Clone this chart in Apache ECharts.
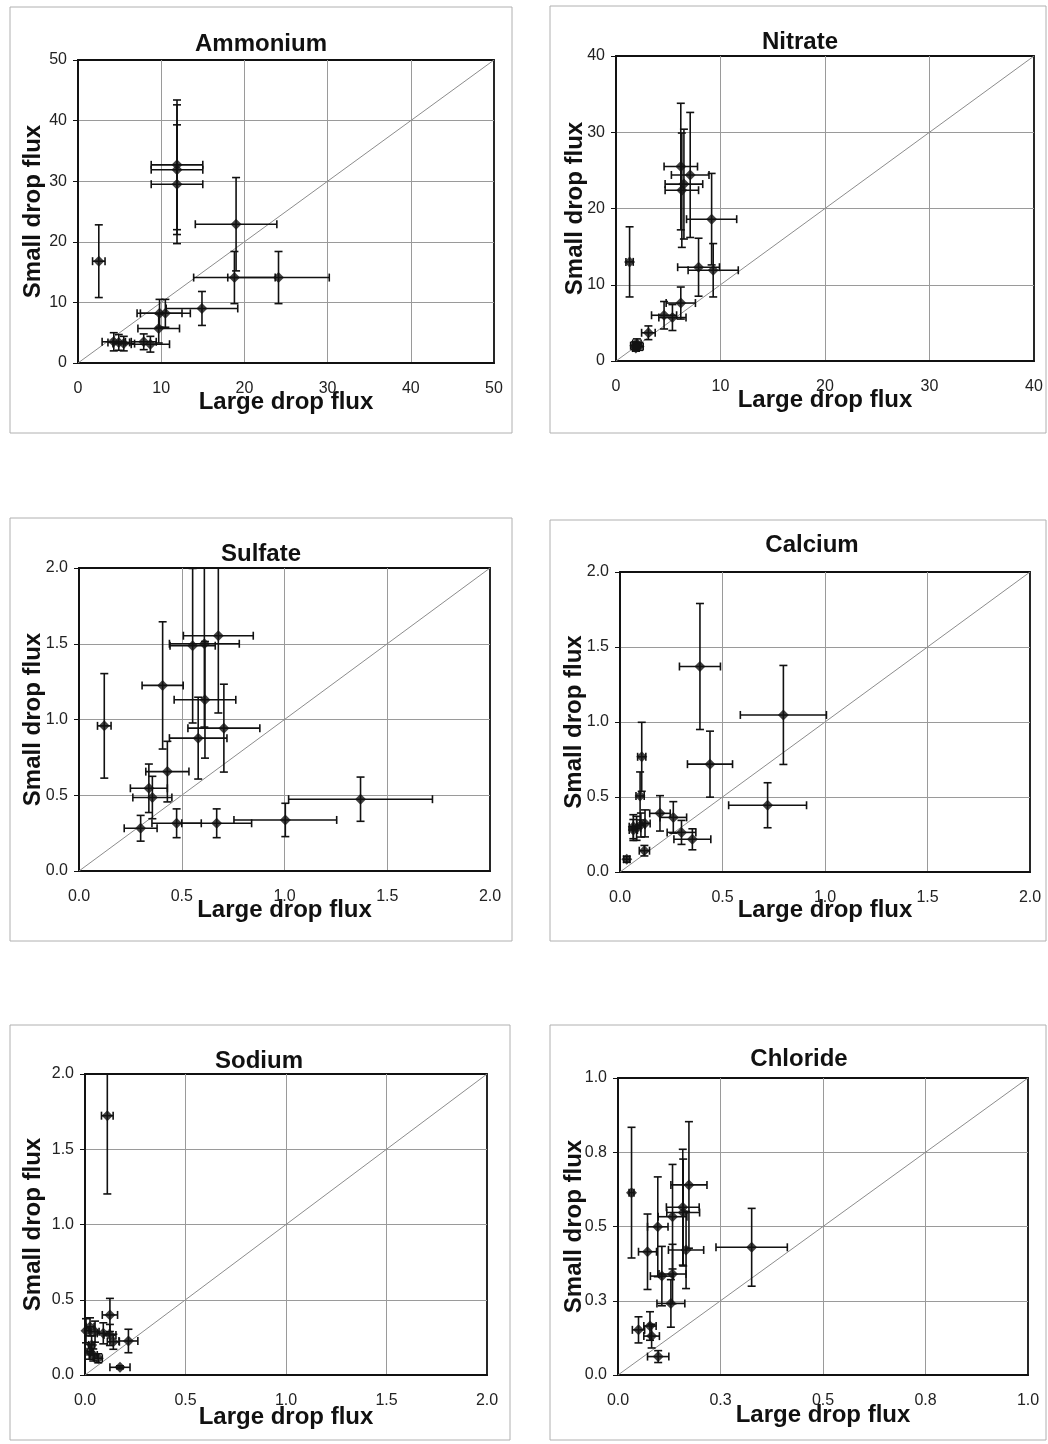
<!DOCTYPE html>
<html>
<head>
<meta charset="utf-8">
<title>Large vs small drop flux</title>
<script src="https://cdn.jsdelivr.net/npm/echarts@6/dist/echarts.min.js"></script>
<style>
	html, body { margin: 0; padding: 0; background: #fff; }
	#chart { width: 1048px; height: 1444px; }
</style>
</head>
<body>
<div id="chart"></div>
<script>
// values
// *Large = large drop flux (x), *Small = small drop flux (y), *Err = half width of the error bar
const ammoniumLarge = [2.5, 11.9, 11.9, 11.9, 19.0, 18.8, 24.1, 14.9, 9.8, 10.5, 9.7, 4.3, 4.9, 5.5, 7.9, 8.7];
const ammoniumSmall = [16.8, 32.7, 31.9, 29.5, 22.9, 14.1, 14.1, 9.0, 8.2, 8.2, 5.7, 3.5, 3.4, 3.2, 3.5, 3.1];
const ammoniumLargeErr = [0.75, 3.1, 3.1, 3.1, 4.9, 4.9, 6.1, 4.3, 2.7, 3.0, 2.5, 1.4, 1.3, 1.3, 1.5, 2.3];
const ammoniumSmallErr = [6.0, 10.7, 10.7, 9.8, 7.7, 4.3, 4.3, 2.8, 2.3, 2.3, 2.4, 1.5, 1.3, 1.2, 1.3, 1.3];

const nitrateLarge = [1.3, 6.2, 7.1, 6.5, 6.3, 9.15, 7.9, 9.3, 6.2, 4.6, 5.4, 3.1, 2.0, 1.8, 2.2, 1.9];
const nitrateSmall = [13.0, 25.5, 24.4, 23.2, 22.4, 18.6, 12.3, 11.9, 7.6, 6.0, 5.7, 3.7, 2.3, 2.0, 1.9, 1.7];
const nitrateLargeErr = [0.35, 1.6, 1.8, 1.8, 1.6, 2.4, 2.0, 2.4, 1.4, 1.2, 1.3, 0.65, 0.4, 0.4, 0.4, 0.3];
const nitrateSmallErr = [4.6, 8.3, 8.2, 7.2, 7.5, 6.0, 3.8, 3.5, 2.1, 1.8, 1.7, 0.9, 0.6, 0.5, 0.5, 0.4];

const sulfateLarge = [0.123, 0.407, 0.553, 0.61, 0.678, 0.613, 0.58, 0.705, 0.43, 0.34, 0.357, 0.30, 0.475, 0.67, 1.004, 1.37];
const sulfateSmall = [0.958, 1.225, 1.487, 1.50, 1.553, 1.13, 0.877, 0.943, 0.656, 0.546, 0.485, 0.282, 0.315, 0.315, 0.337, 0.474];
const sulfateLargeErr = [0.033, 0.10, 0.11, 0.17, 0.17, 0.15, 0.14, 0.175, 0.105, 0.09, 0.095, 0.08, 0.12, 0.17, 0.25, 0.35];
const sulfateSmallErr = [0.345, 0.42, 0.51, 0.55, 0.51, 0.385, 0.27, 0.29, 0.2, 0.16, 0.14, 0.085, 0.095, 0.095, 0.11, 0.146];

const calciumLarge = [0.39, 0.797, 0.439, 0.72, 0.106, 0.098, 0.195, 0.26, 0.30, 0.353, 0.065, 0.081, 0.122, 0.102, 0.065, 0.119, 0.033];
const calciumSmall = [1.37, 1.047, 0.719, 0.445, 0.768, 0.507, 0.391, 0.364, 0.264, 0.218, 0.302, 0.291, 0.324, 0.313, 0.28, 0.142, 0.085];
const calciumLargeErr = [0.10, 0.21, 0.11, 0.19, 0.02, 0.02, 0.05, 0.065, 0.07, 0.09, 0.02, 0.02, 0.025, 0.02, 0.02, 0.025, 0.015];
const calciumSmallErr = [0.42, 0.33, 0.22, 0.15, 0.23, 0.16, 0.118, 0.105, 0.08, 0.07, 0.08, 0.08, 0.09, 0.08, 0.07, 0.035, 0.02];

const sodiumLarge = [0.111, 0.124, 0.216, 0.174, 0.005, 0.025, 0.05, 0.091, 0.124, 0.141, 0.033, 0.041, 0.066, 0.025];
const sodiumSmall = [1.723, 0.399, 0.226, 0.051, 0.294, 0.32, 0.288, 0.277, 0.266, 0.221, 0.20, 0.133, 0.111, 0.155];
const sodiumLargeErr = [0.029, 0.038, 0.047, 0.05, 0.015, 0.02, 0.02, 0.03, 0.03, 0.03, 0.015, 0.02, 0.02, 0.015];
const sodiumSmallErr = [0.52, 0.11, 0.078, 0.01, 0.08, 0.06, 0.07, 0.07, 0.07, 0.05, 0.06, 0.04, 0.03, 0.05];

const chlorideLarge = [0.033, 0.173, 0.158, 0.159, 0.133, 0.097, 0.072, 0.166, 0.326, 0.107, 0.133, 0.129, 0.05, 0.078, 0.082, 0.098];
const chlorideSmall = [0.614, 0.64, 0.565, 0.547, 0.533, 0.499, 0.415, 0.421, 0.43, 0.333, 0.34, 0.241, 0.152, 0.165, 0.131, 0.062];
const chlorideLargeErr = [0.006, 0.044, 0.04, 0.04, 0.035, 0.025, 0.022, 0.043, 0.087, 0.028, 0.033, 0.034, 0.015, 0.015, 0.019, 0.026];
const chlorideSmallErr = [0.22, 0.213, 0.195, 0.18, 0.176, 0.168, 0.127, 0.13, 0.131, 0.1, 0.1, 0.08, 0.044, 0.048, 0.04, 0.02];

const species = [
	{ name: 'Ammonium', large: ammoniumLarge, small: ammoniumSmall, largeErr: ammoniumLargeErr, smallErr: ammoniumSmallErr, max: 50, step: 10 },
	{ name: 'Nitrate', large: nitrateLarge, small: nitrateSmall, largeErr: nitrateLargeErr, smallErr: nitrateSmallErr, max: 40, step: 10 },
	{ name: 'Sulfate', large: sulfateLarge, small: sulfateSmall, largeErr: sulfateLargeErr, smallErr: sulfateSmallErr, max: 2, step: 0.5 },
	{ name: 'Calcium', large: calciumLarge, small: calciumSmall, largeErr: calciumLargeErr, smallErr: calciumSmallErr, max: 2, step: 0.5 },
	{ name: 'Sodium', large: sodiumLarge, small: sodiumSmall, largeErr: sodiumLargeErr, smallErr: sodiumSmallErr, max: 2, step: 0.5 },
	{ name: 'Chloride', large: chlorideLarge, small: chlorideSmall, largeErr: chlorideLargeErr, smallErr: chlorideSmallErr, max: 1, step: 0.25 },
];

// page geometry of each panel: outer box, plot area, title centre, axis name gaps
const layout = [
	{ box: [10, 7, 502, 426], grid: [78, 60, 416, 303], title: [261, 45], gapX: 27, gapY: 33 },
	{ box: [550, 6, 496, 427], grid: [616, 56, 418, 305], title: [800, 43], gapX: 27, gapY: 29 },
	{ box: [10, 518, 502, 423], grid: [79, 568, 411, 303], title: [261, 555], gapX: 27, gapY: 34 },
	{ box: [550, 520, 496, 421], grid: [620, 572, 410, 300], title: [812, 546], gapX: 26, gapY: 34 },
	{ box: [10, 1025, 500, 415], grid: [85, 1074, 402, 301], title: [259, 1062], gapX: 30, gapY: 40 },
	{ box: [550, 1025, 496, 415], grid: [618, 1078, 410, 297], title: [799, 1060], gapX: 28, gapY: 32 },
];

const FONT = "'Liberation Sans', Arial, sans-serif";
const INK = '#111';

const renderErrorBar = (params, api) => {
	const x = api.value(0);
	const y = api.value(1);
	const dx = api.value(2);
	const dy = api.value(3);
	const cs = params.coordSys;
	const clampX = (v) => Math.min(Math.max(v, cs.x), cs.x + cs.width);
	const clampY = (v) => Math.min(Math.max(v, cs.y), cs.y + cs.height);
	const [cx, cy] = api.coord([x, y]);
	const xl = api.coord([x - dx, y])[0];
	const xr = api.coord([x + dx, y])[0];
	const yt = api.coord([x, y + dy])[1];
	const yb = api.coord([x, y - dy])[1];
	const cap = 4;
	const style = { stroke: INK, lineWidth: 1.6, fill: null };
	const seg = (x1, y1, x2, y2) => ({ type: 'line', shape: { x1, y1, x2, y2 }, style });
	const parts = [seg(clampX(xl), cy, clampX(xr), cy), seg(cx, clampY(yt), cx, clampY(yb))];
	if (xl >= cs.x) parts.push(seg(xl, cy - cap, xl, cy + cap));
	if (xr <= cs.x + cs.width) parts.push(seg(xr, cy - cap, xr, cy + cap));
	if (yt >= cs.y) parts.push(seg(cx - cap, yt, cx + cap, yt));
	if (yb <= cs.y + cs.height) parts.push(seg(cx - cap, yb, cx + cap, yb));
	return { type: 'group', children: parts };
};

const tickText = (step) => (v) => (step < 1 ? v.toFixed(1) : String(v));

const makeAxis = (s, i, isX) => {
	const L = layout[i];
	return {
		type: 'value',
		gridIndex: i,
		min: 0,
		max: s.max,
		interval: s.step,
		name: isX ? 'Large drop flux' : 'Small drop flux',
		nameLocation: 'middle',
		nameGap: isX ? L.gapX : L.gapY,
		// the original lets the axis names sit over the tick labels
		nameMoveOverlap: false,
		nameTextStyle: { fontFamily: FONT, fontSize: 24, fontWeight: 'bold', color: INK },
		axisLine: { show: true, lineStyle: { color: INK, width: 1.8 } },
		axisTick: { show: !isX, inside: false, length: 5, lineStyle: { color: INK } },
		axisLabel: {
			margin: isX ? 18 : 11,
			fontFamily: FONT,
			fontSize: 16,
			color: '#222',
			formatter: tickText(s.step),
		},
		splitLine: { show: true, showMinLine: false, showMaxLine: false, lineStyle: { color: '#9a9a9a', width: 1 } },
	};
};

const option = {
	animation: false,
	backgroundColor: '#fff',
	textStyle: { fontFamily: FONT },
	title: [],
	grid: [],
	xAxis: [],
	yAxis: [],
	series: [],
	graphic: [],
};

species.forEach((s, i) => {
	const L = layout[i];
	option.graphic.push({
		type: 'rect',
		silent: true,
		shape: { x: L.box[0], y: L.box[1], width: L.box[2], height: L.box[3] },
		style: { fill: 'none', stroke: '#b0b0b0', lineWidth: 1 },
	});
	option.title.push({
		text: s.name,
		left: L.title[0],
		top: L.title[1] - 13,
		textAlign: 'center',
		padding: 0,
		textStyle: { fontFamily: FONT, fontSize: 24, fontWeight: 'bold', color: INK },
	});
	option.grid.push({
		left: L.grid[0],
		top: L.grid[1],
		width: L.grid[2],
		height: L.grid[3],
		show: true,
		borderColor: INK,
		borderWidth: 1.8,
		backgroundColor: 'transparent',
	});
	option.xAxis.push(makeAxis(s, i, true));
	option.yAxis.push(makeAxis(s, i, false));

	const points = s.large.map((x, k) => [x, s.small[k], s.largeErr[k], s.smallErr[k]]);

	// 1:1 reference line
	option.series.push({
		type: 'line',
		xAxisIndex: i,
		yAxisIndex: i,
		data: [[0, 0], [s.max, s.max]],
		symbol: 'none',
		silent: true,
		lineStyle: { color: '#8c8c8c', width: 1 },
		z: 1,
	});
	option.series.push({
		type: 'custom',
		xAxisIndex: i,
		yAxisIndex: i,
		renderItem: renderErrorBar,
		encode: { x: 0, y: 1 },
		data: points,
		silent: true,
		z: 2,
	});
	option.series.push({
		type: 'scatter',
		xAxisIndex: i,
		yAxisIndex: i,
		data: points.map((p) => [p[0], p[1]]),
		symbol: 'diamond',
		symbolSize: 11,
		itemStyle: { color: INK },
		z: 3,
	});
});

const chart = echarts.init(document.getElementById('chart'));
chart.setOption(option);
</script>
</body>
</html>
